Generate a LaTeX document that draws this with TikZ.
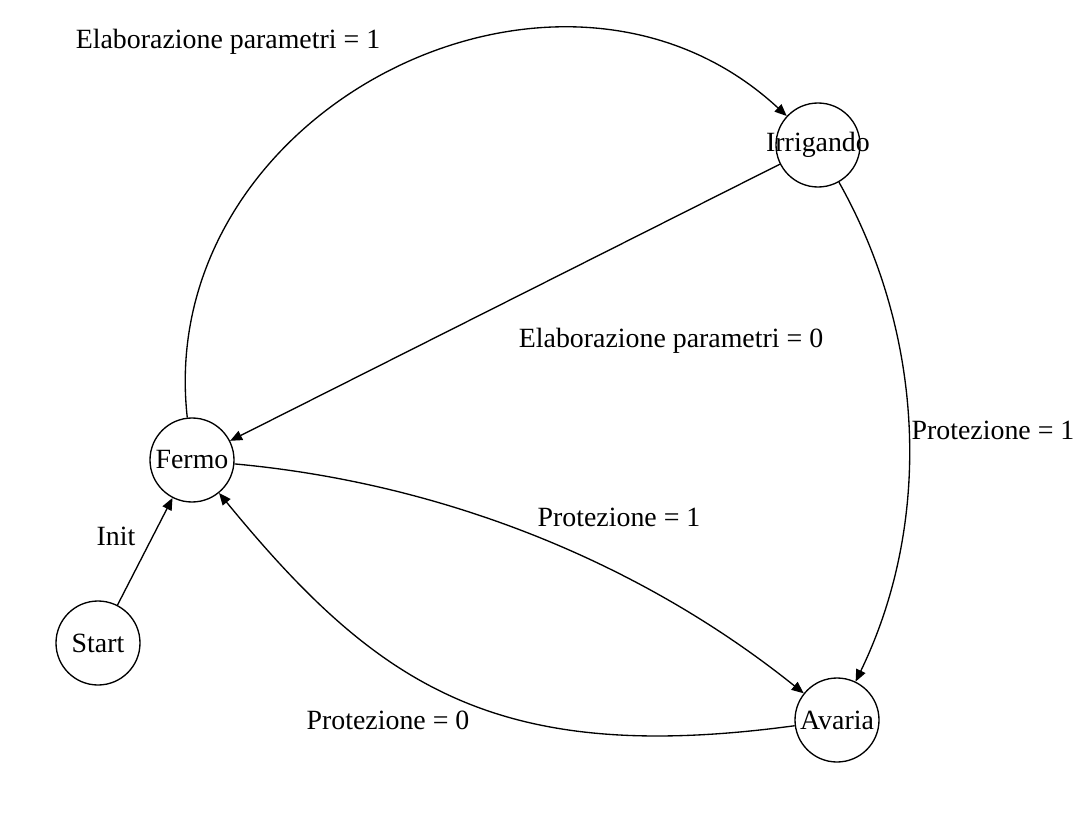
\documentclass[tikz,border=0pt]{standalone}
\usepackage{fontspec}
\setmainfont{Liberation Serif}
\usepackage{tikz}
\usetikzlibrary{
    arrows.meta,
    positioning,
}

\begin{document}
\begin{tikzpicture}[%
    x=0.75pt,
    y=-0.75pt,
    every node/.style={
        font=\fontsize{20.9}{25}\selectfont,
        inner sep=0,
    },
    state/.style={
        circle,
        minimum size=63pt,
        line width=1pt,
        draw=black,
        fill=white,
    },
    trans/.style={
        draw,
        line width=1pt,
        -{Triangle[length=9pt,width=7.5pt]},
    },
]

\useasboundingbox (0, 0) rectangle (1081, 813);

% stati
\node [state, label={center:Start}] (start) at (98, 643) {};
\node [state, label={center:Fermo}] (fermo) at (192, 460) {};
\node [state, label={center:Irrigando}] (irrigando) at (818, 145) {};
\node [state, label={center:Avaria}] (avaria) at (837, 720) {};

% transizioni
\draw [trans] (start) -- (fermo);
\draw [trans] (fermo) .. controls (153, 110) and (559, -95) .. (irrigando);
\draw [trans] (irrigando) -- (fermo);
\draw [trans] (irrigando) .. controls (925, 335) and (933, 522) .. (avaria);
\draw [trans] (fermo) .. controls (443, 483) and (640, 562) .. (avaria);
\draw [trans] (avaria) .. controls (497, 766) and (378, 687) .. (fermo);

% condizioni
\node (init) at (116, 536) {Init};
\node (elab1) at (228, 42) {Elaborazione parametri = 1};
\node (elab0) at (671, 341) {Elaborazione parametri = 0};
\node (prot1right) at (993, 430) {Protezione = 1};
\node (prot1mid) at (619, 517) {Protezione = 1};
\node (prot0) at (388, 720) {Protezione = 0};

\end{tikzpicture}
\end{document}
